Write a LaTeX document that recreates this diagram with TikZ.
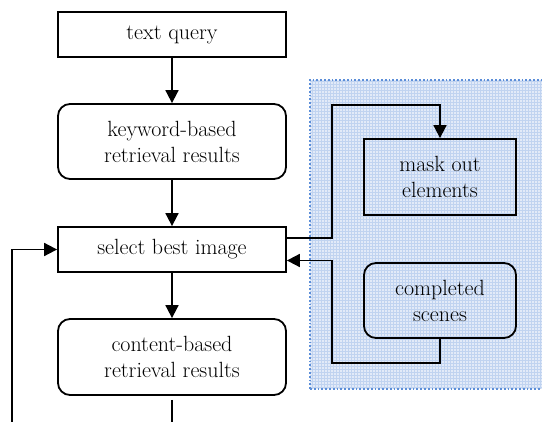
\documentclass[tikz,border=0pt]{standalone}
\usepackage{fontspec}
\setmainfont{Latin Modern Roman}
\usetikzlibrary{arrows.meta}
\definecolor{panelfill}{RGB}{226,234,248}
\definecolor{panelgrid}{RGB}{192,211,240}
\definecolor{panelborder}{RGB}{92,142,216}
\tikzset{
  box/.style={draw, line width=1.8pt, align=center, inner sep=0pt,
    font=\fontsize{22}{26}\selectfont},
  sqbox/.style={box},
  rbox/.style={box, rounded corners=12pt},
  conn/.style={line width=1.8pt},
  arr/.style={conn, -{Triangle[length=13pt,width=13pt]}},
}
\begin{document}
\begin{tikzpicture}[x=1pt,y=-1pt]
\useasboundingbox (0,0) rectangle (542,422);
% panel
\fill[panelfill] (310,80) rectangle (546,389);
\draw[panelgrid, line width=0.6pt, step=3pt] (310,80) grid (546,389);
\draw[panelborder, line width=1.8pt, dotted] (310,389) -- (310,80) -- (546,80);
\draw[panelborder, line width=1.8pt, dotted] (310,389) -- (546,389);
% nodes
\node[sqbox, minimum width=228pt, minimum height=45pt] (tq) at (172,34.5) {text query};
\node[rbox, minimum width=228pt, minimum height=75pt] (kw) at (172,141.5) {keyword-based\\retrieval results};
\node[sqbox, minimum width=228pt, minimum height=45pt] (sel) at (172,249.5) {select best image};
\node[rbox, minimum width=228pt, minimum height=76pt] (cb) at (172,357) {content-based\\retrieval results};
\node[sqbox, minimum width=152pt, minimum height=76pt] (mask) at (440,177) {mask out\\elements};
\node[rbox, minimum width=152pt, minimum height=75pt] (comp) at (440,300.5) {completed\\scenes};
% coordinates
\coordinate (bot) at (172,422);
\coordinate (lb) at (12,422);
\coordinate (lt) at (12,249.5);
\coordinate (o1) at (332,238);
\coordinate (o2) at (332,105);
\coordinate (o3) at (440,105);
\coordinate (i1) at (440,363);
\coordinate (i2) at (332,363);
\coordinate (i3) at (332,260.5);
% connectors
\draw[arr] (tq) -- (kw);
\draw[arr] (kw) -- (sel);
\draw[arr] (sel) -- (cb);
\draw[conn, shorten <=4pt] (cb.south) -- (bot);
\draw[arr] (sel.east |- o1) -- (o1) -- (o2) -- (o3) -- (mask.north);
\draw[arr] (comp.south) -- (i1) -- (i2) -- (i3) -- (sel.east |- i3);
\draw[arr] (lb) -- (lt) -- (sel.west);
\end{tikzpicture}
\end{document}
